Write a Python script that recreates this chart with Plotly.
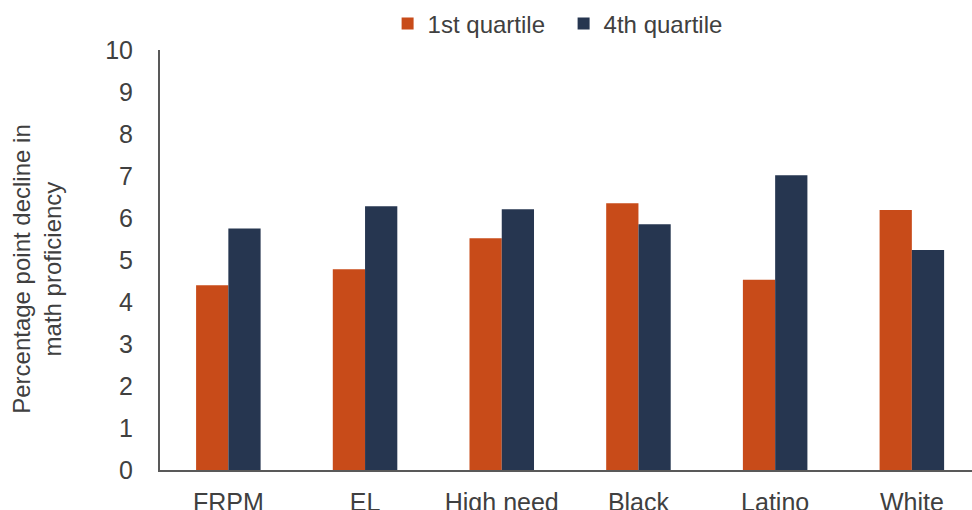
import plotly.graph_objects as go

# Student groups and the math proficiency decline (percentage points) by quartile
categories = ["FRPM", "EL", "High need", "Black", "Latino", "White"]
quartile_1 = [4.40, 4.78, 5.52, 6.35, 4.53, 6.19]
quartile_4 = [5.75, 6.28, 6.21, 5.85, 7.02, 5.24]
y_ticks = list(range(0, 11))

ORANGE = "#C84B19"
NAVY = "#263650"
TEXT = "#404040"
FONT = "Liberation Sans, Arial, sans-serif"

fig = go.Figure()
fig.add_trace(go.Bar(name="1st quartile", x=categories, y=quartile_1,
                     marker=dict(color=ORANGE, line=dict(width=0))))
fig.add_trace(go.Bar(name="4th quartile", x=categories, y=quartile_4,
                     marker=dict(color=NAVY, line=dict(width=0))))

fig.update_layout(
    width=972, height=510,
    margin=dict(l=160, r=0, t=50, b=40, autoexpand=False),
    paper_bgcolor="white", plot_bgcolor="white",
    barmode="group", bargap=0.528, bargroupgap=0,
    font=dict(family=FONT, size=24, color=TEXT),
    showlegend=True,
    legend=dict(orientation="h", x=0.2803, xanchor="left", y=1.062, yanchor="middle",
                font=dict(size=24, color=TEXT), itemwidth=30, entrywidth=131,
                bgcolor="rgba(0,0,0,0)"),
    xaxis=dict(range=[-0.5, 5.44], showline=True, linecolor="#595959", linewidth=2,
               showgrid=False, ticks="", ticklabelstandoff=9, automargin=False,
               tickfont=dict(size=25, color=TEXT), zeroline=False),
    yaxis=dict(range=[0, 10], tickvals=y_ticks, showline=True, linecolor="#595959",
               linewidth=2, showgrid=False, ticks="", ticklabelstandoff=20,
               automargin=False, tickfont=dict(size=25, color=TEXT), zeroline=False),
    annotations=[dict(text="Percentage point decline in<br>math proficiency",
                      xref="paper", yref="paper", x=-0.1515, y=0.479,
                      xanchor="center", yanchor="middle", textangle=-90,
                      showarrow=False, font=dict(size=24, color=TEXT))],
)

fig.write_html("out.html")
